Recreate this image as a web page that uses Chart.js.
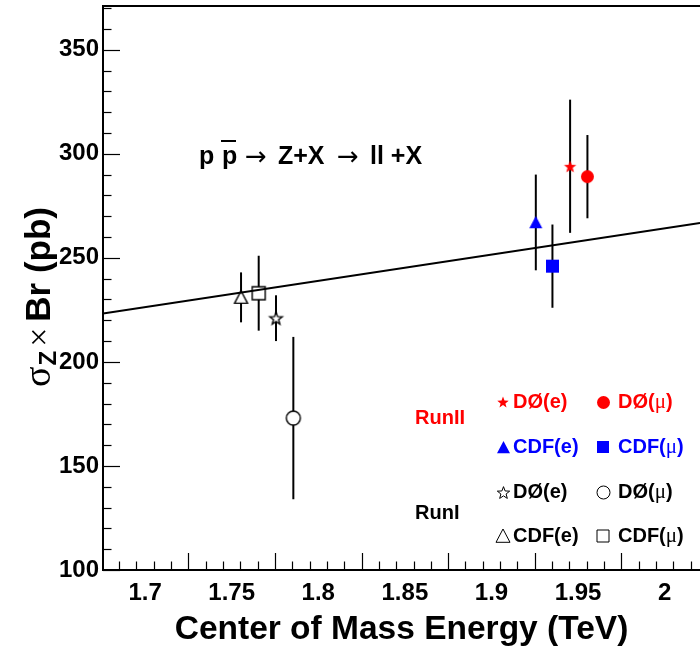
<!DOCTYPE html>
<html>
<head>
<meta charset="utf-8">
<script src="https://cdn.jsdelivr.net/npm/chart.js@4.4.0/dist/chart.umd.min.js"></script>
<style>
  html, body { margin: 0; padding: 0; background: #fff; }
</style>
</head>
<body>
<canvas id="chart" width="700" height="648"></canvas>
<script>
const SANS = '"Liberation Sans", Arial, sans-serif';
const SERIF = '"Liberation Serif", "DejaVu Serif", serif';

// Run II (1.96 TeV) - points spread sideways so they don't overlap
const runIINames = ['DØ(e)', 'DØ(μ)', 'CDF(e)', 'CDF(μ)'];
const runIIEnergy = [1.9454, 1.9554, 1.9256, 1.9352];
const runIIXsec = [294, 289, 267, 246];
const runIIErr = [32, 20, 23, 20];

// Run I (1.8 TeV)
const runINames = ['DØ(e)', 'DØ(μ)', 'CDF(e)', 'CDF(μ)'];
const runIEnergy = [1.7756, 1.7856, 1.7554, 1.7656];
const runIXsec = [221, 173, 231, 233];
const runIErr = [11, 39, 12, 18];

// prediction line
const fitEnergy = [1.6757, 2.0204];
const fitXsec = [223.3, 266.7];

const xTicks = [1.7, 1.75, 1.8, 1.85, 1.9, 1.95, 2.0];
const yTicks = [100, 150, 200, 250, 300, 350];

function marker(shape, size, fill, stroke, lw) {
  const c = document.createElement('canvas');
  c.width = c.height = Math.ceil(size) + 6;
  const g = c.getContext('2d');
  const m = c.width / 2, r = size / 2;
  g.beginPath();
  if (shape === 'circle') g.arc(m, m, r, 0, Math.PI * 2);
  else if (shape === 'square') g.rect(m - r, m - r, size, size);
  else if (shape === 'triangle') {
    g.moveTo(m, m - r); g.lineTo(m + r, m + r * 0.9); g.lineTo(m - r, m + r * 0.9); g.closePath();
  } else if (shape === 'star') {
    for (let i = 0; i < 10; i++) {
      const a = -Math.PI / 2 + i * Math.PI / 5;
      const rr = i % 2 ? r * 0.42 : r;
      g.lineTo(m + rr * Math.cos(a), m + rr * Math.sin(a) + r * 0.1);
    }
    g.closePath();
  }
  g.fillStyle = fill;
  g.fill();
  if (stroke) { g.lineWidth = lw; g.strokeStyle = stroke; g.stroke(); }
  return c;
}

const shapes = ['star', 'circle', 'triangle', 'square'];
const runIIColors = ['#ff0000', '#ff0000', '#0000ff', '#0000ff'];

const datasets = [{
  type: 'line',
  data: fitEnergy.map((e, i) => ({ x: e, y: fitXsec[i] })),
  borderColor: '#000',
  borderWidth: 2,
  pointRadius: 0,
  fill: false
}];
shapes.forEach((s, i) => {
  datasets.push({
    label: 'RunI ' + runINames[i],
    data: [{ x: runIEnergy[i], y: runIXsec[i], err: runIErr[i] }],
    pointStyle: marker(s, s === 'circle' ? 14 : 13, '#fff', '#000', 1.4),
    pointRadius: 6
  });
});
shapes.forEach((s, i) => {
  datasets.push({
    label: 'RunII ' + runIINames[i],
    data: [{ x: runIIEnergy[i], y: runIIXsec[i], err: runIIErr[i] }],
    pointStyle: marker(s, 13, runIIColors[i]),
    pointRadius: 6
  });
});

const errorBars = {
  id: 'errorBars',
  beforeDatasetsDraw(chart) {
    const { ctx, scales: { x, y } } = chart;
    ctx.save();
    ctx.strokeStyle = '#000';
    ctx.lineWidth = 2;
    chart.data.datasets.forEach(ds => ds.data.forEach(p => {
      if (p.err == null) return;
      const px = x.getPixelForValue(p.x);
      ctx.beginPath();
      ctx.moveTo(px, y.getPixelForValue(p.y - p.err));
      ctx.lineTo(px, y.getPixelForValue(p.y + p.err));
      ctx.stroke();
    }));
    ctx.restore();
  }
};

function richText(ctx, parts, x, y) {
  parts.forEach(p => {
    ctx.font = p.font;
    ctx.fillText(p.t, x, y + (p.dy || 0));
    x += ctx.measureText(p.t).width + (p.gap || 0);
  });
}

const decorations = {
  id: 'decorations',
  afterDraw(chart) {
    const { ctx, chartArea: a, scales: { x, y } } = chart;
    ctx.save();
    ctx.strokeStyle = '#000';
    // top frame
    ctx.lineWidth = 2;
    ctx.beginPath(); ctx.moveTo(a.left, a.top); ctx.lineTo(a.right, a.top); ctx.stroke();
    // inward ticks
    ctx.lineWidth = 1.2;
    for (let v = 100; v <= y.max + 1e-9; v += 10) {
      const py = Math.round(y.getPixelForValue(v)) + 0.5;
      const len = Math.abs(v % 50) < 1e-6 ? 17 : 8.5;
      ctx.beginPath(); ctx.moveTo(a.left, py); ctx.lineTo(a.left + len, py); ctx.stroke();
    }
    for (let k = 0; ; k++) {
      const v = 1.685 + 0.01 * k;
      if (v > x.max) break;
      const px = Math.round(x.getPixelForValue(v)) + 0.5;
      const q = (v - 1.725) / 0.05;
      const len = Math.abs(q - Math.round(q)) < 1e-6 ? 17 : 8.5;
      ctx.beginPath(); ctx.moveTo(px, a.bottom); ctx.lineTo(px, a.bottom - len); ctx.stroke();
    }

    ctx.fillStyle = '#000';
    ctx.textAlign = 'left';
    ctx.textBaseline = 'alphabetic';

    // process label
    const b = `bold 25px ${SANS}`;
    const arr = `26px "DejaVu Sans", sans-serif`;
    richText(ctx, [{ t: 'p', font: b }], 199, 164);
    richText(ctx, [{ t: 'p', font: b }], 222, 164);
    ctx.lineWidth = 2;
    ctx.beginPath(); ctx.moveTo(221, 141); ctx.lineTo(236, 141); ctx.stroke();
    richText(ctx, [{ t: '→', font: arr }], 245, 165);
    richText(ctx, [{ t: 'Z+X', font: b }], 278, 164);
    richText(ctx, [{ t: '→', font: arr }], 337, 165);
    richText(ctx, [{ t: 'll +X', font: b }], 370, 164);

    // y title
    ctx.save();
    ctx.translate(50, 387);
    ctx.rotate(-Math.PI / 2);
    richText(ctx, [
      { t: 'σ', font: `38px ${SERIF}`, gap: 1 },
      { t: 'Z', font: `bold 24px ${SANS}`, dy: 6, gap: 4 },
      { t: '×', font: `34px ${SERIF}`, gap: 6 },
      { t: 'Br (pb)', font: `bold 35px ${SANS}` }
    ], 0, 0);
    ctx.restore();

    // legend
    ctx.textBaseline = 'middle';
    const lb = `bold 20px ${SANS}`;
    const mu = `21px ${SERIF}`;
    ctx.fillStyle = '#ff0000';
    richText(ctx, [{ t: 'RunII', font: lb }], 415, 418);
    ctx.fillStyle = '#000';
    richText(ctx, [{ t: 'RunI', font: lb }], 415, 513);
    const rows = [402, 447, 492, 536];
    const cols = [503, 603];
    const legendItems = [
      [0, 0, marker('star', 12, '#ff0000'), '#ff0000', 0],
      [0, 1, marker('circle', 13, '#ff0000'), '#ff0000', 1],
      [1, 0, marker('triangle', 13, '#0000ff'), '#0000ff', 2],
      [1, 1, marker('square', 12, '#0000ff'), '#0000ff', 3],
      [2, 0, marker('star', 13, '#fff', '#000', 1), '#000', 0],
      [2, 1, marker('circle', 13, '#fff', '#000', 1), '#000', 1],
      [3, 0, marker('triangle', 14, '#fff', '#000', 1), '#000', 2],
      [3, 1, marker('square', 12, '#fff', '#000', 1), '#000', 3]
    ];
    legendItems.forEach(([r, c, img, col, n]) => {
      const cx = cols[c], cy = rows[r];
      ctx.drawImage(img, Math.round(cx - img.width / 2), Math.round(cy - img.height / 2));
      ctx.fillStyle = col;
      const name = (r < 2 ? runIINames : runINames)[n];
      const tx = c === 0 ? 513 : 618;
      if (name.includes('μ')) {
        const [pre, post] = name.split('μ');
        richText(ctx, [{ t: pre, font: lb }, { t: 'μ', font: mu }, { t: post, font: lb }], tx, cy);
      } else {
        richText(ctx, [{ t: name, font: lb }], tx, cy);
      }
    });
    ctx.restore();
  }
};

const tickFont = { family: SANS, size: 24, weight: 'bold' };

new Chart(document.getElementById('chart'), {
  type: 'scatter',
  data: { datasets },
  options: {
    responsive: false,
    animation: false,
    devicePixelRatio: 1,
    layout: { autoPadding: false, padding: { top: 6, left: 0, right: 0, bottom: 0 } },
    plugins: { legend: { display: false }, tooltip: { enabled: false } },
    scales: {
      x: {
        type: 'linear',
        min: 1.6757,
        max: 2.0204,
        afterBuildTicks: s => { s.ticks = xTicks.map(v => ({ value: v })); },
        afterFit: s => { s.height = 78; s.paddingLeft = 0; s.paddingRight = 0; },
        ticks: {
          font: tickFont, color: '#000', padding: 9, maxRotation: 0, autoSkip: false,
          callback: v => String(Number(v.toFixed(2)))
        },
        grid: { display: false, drawTicks: false },
        border: { display: true, color: '#000', width: 2 },
        title: {
          display: true, text: 'Center of Mass Energy (TeV)', color: '#000',
          font: { family: SANS, size: 33.5, weight: 'bold' },
          padding: { top: 0, bottom: -2 }
        }
      },
      y: {
        type: 'linear',
        min: 100,
        max: 371,
        afterBuildTicks: s => { s.ticks = yTicks.map(v => ({ value: v })); },
        afterFit: s => { s.width = 103; s.paddingTop = 0; s.paddingBottom = 0; },
        ticks: { font: tickFont, color: '#000', padding: 4 },
        grid: { display: false, drawTicks: false },
        border: { display: true, color: '#000', width: 2 }
      }
    }
  },
  plugins: [errorBars, decorations]
});
</script>
</body>
</html>
